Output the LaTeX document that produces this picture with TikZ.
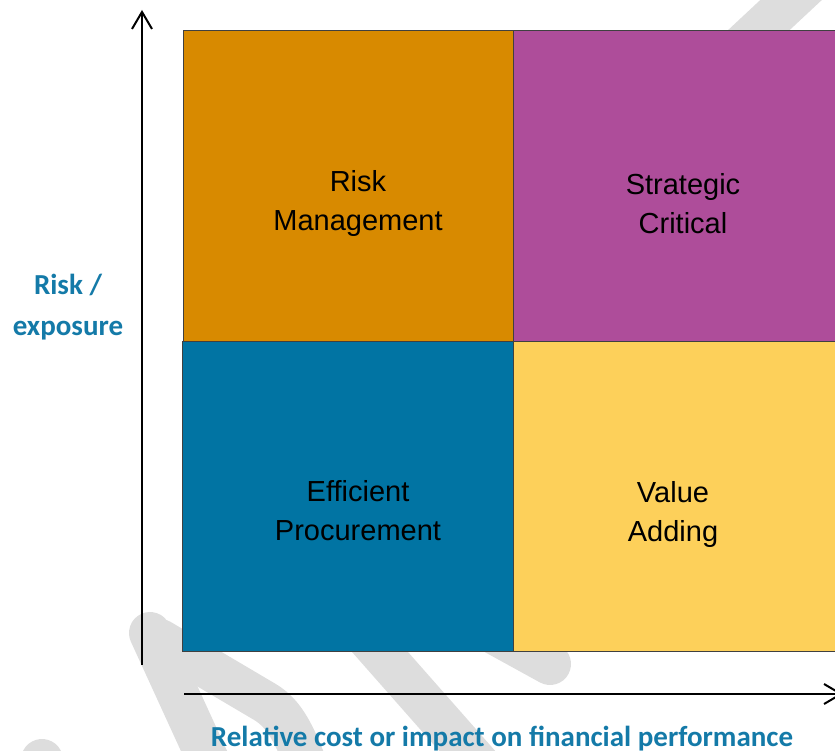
\documentclass[tikz,border=0pt]{standalone}
\usepackage{fontspec}
\setmainfont{Liberation Sans}
\newfontfamily\axisfont{Carlito}
\usetikzlibrary{arrows.meta}
\definecolor{wmgray}{RGB}{221,221,221}
\definecolor{qorange}{RGB}{216,138,0}
\definecolor{qpurple}{RGB}{174,77,154}
\definecolor{qblue}{RGB}{1,116,163}
\definecolor{qyellow}{RGB}{253,208,90}
\definecolor{edgegray}{RGB}{64,64,64}
\definecolor{axislabel}{RGB}{20,122,168}
\begin{document}
\begin{tikzpicture}[x=1pt,y=-1pt,
  wm/.style={draw=wmgray, line width=42pt, line cap=round, line join=round},
  quad/.style={rectangle, draw=edgegray, line width=1pt, inner sep=0pt, anchor=north west},
  quadtext/.style={font=\fontsize{29}{39}\selectfont, align=center, text=black},
  axislbl/.style={font=\axisfont\bfseries\fontsize{29}{41}\selectfont, text=axislabel, align=center},
  axis/.style={line width=2pt, -{Straight Barb[length=17pt,width=20pt]}}]
\useasboundingbox (0,0) rectangle (835,751);
\clip (0,0) rectangle (835,751);

% faint background strokes
\draw[wm] (150,633) -- (215,775);
\draw[wm] (160,640) -- (265,702) .. controls (285,714) and (295,735) .. (310,775);
\draw[wm] (343,610) -- (484,770);
\draw[wm] (470,620) -- (550,664);
\draw[wm] (700,85) -- (820,-27);
\draw[wm] (42,760) -- (10,820);

% the four quadrants
\node[quad, fill=qorange, minimum width=330pt, minimum height=310pt] (riskq) at (183,30.5) {};
\node[quad, fill=qblue, minimum width=331pt, minimum height=310pt] (effq) at (182,340.5) {};
\node[quad, fill=qpurple, minimum width=340pt, minimum height=310pt] (stratq) at (513,30.5) {};
\node[quad, fill=qyellow, minimum width=340pt, minimum height=310pt] (valq) at (513,340.5) {};

% quadrant captions
\node[quadtext] (riskmgmt) at (358,204) {Risk\\Management};
\node[quadtext] (stratcrit) at (683,204) {Strategic\\Critical};
\node[quadtext] (effproc) at (358,511) {Efficient\\Procurement};
\node[quadtext] (valadd) at (673,514) {Value\\Adding};

% axes
\coordinate (ybase) at (142,665);
\coordinate (ytip) at (142,10);
\draw[axis] (ybase) -- (ytip);
\coordinate (xbase) at (184,694);
\coordinate (xtip) at (843,694);
\draw[axis] (xbase) -- (xtip);

% axis captions
\node[axislbl] (ylabel) at (68,307) {Risk /\\exposure};
\node[axislbl, anchor=base] (xlabel) at (502,746) {Relative cost or impact on financial performance};
\end{tikzpicture}
\end{document}
